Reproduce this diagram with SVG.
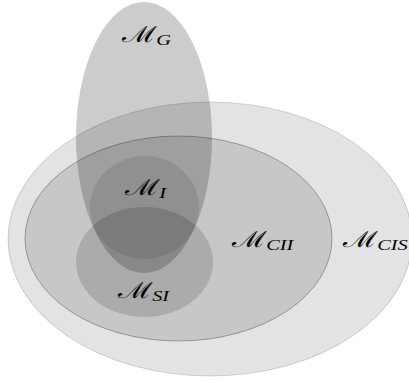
<svg xmlns="http://www.w3.org/2000/svg" width="409" height="381" viewBox="0 0 409 381">
<style>
.m{font-family:"DejaVu Serif",serif;font-size:22px;fill:#000}
.s{font-family:"Liberation Serif",serif;font-style:italic;font-size:15px}
</style>
<rect width="409" height="381" fill="#fff"/>
<g id="M_CIS"><ellipse cx="210" cy="239" rx="202" ry="137" fill="#000" fill-opacity="0.11" stroke="#000" stroke-opacity="0.2" stroke-width="0.8"/></g>
<g id="M_CII"><ellipse cx="178.5" cy="238.5" rx="153.5" ry="102.5" fill="#000" fill-opacity="0.12" stroke="#000" stroke-opacity="0.38" stroke-width="0.8"/></g>
<g id="M_G"><ellipse cx="144" cy="137.5" rx="68" ry="135.5" fill="#000" fill-opacity="0.2"/></g>
<g id="M_I"><ellipse cx="144.5" cy="207.5" rx="54.5" ry="51.5" fill="#000" fill-opacity="0.09"/></g>
<g id="M_SI"><ellipse cx="144.5" cy="262" rx="68.5" ry="55" fill="#000" fill-opacity="0.14"/></g>
<g id="labels">
<text class="m" transform="translate(122,42) scale(1.36,1)">ℳ<tspan class="s" dy="2.5">G</tspan></text>
<text class="m" transform="translate(125,195) scale(1.36,1)">ℳ<tspan class="s" dy="2.5">I</tspan></text>
<text class="m" transform="translate(232,247) scale(1.36,1)">ℳ<tspan class="s" dy="2.5">CII</tspan></text>
<text class="m" transform="translate(343,247) scale(1.36,1)">ℳ<tspan class="s" dy="2.5">CIS</tspan></text>
<text class="m" transform="translate(118,298) scale(1.36,1)">ℳ<tspan class="s" dy="2.5">SI</tspan></text>
</g>
<g id="connectors"/>
</svg>
